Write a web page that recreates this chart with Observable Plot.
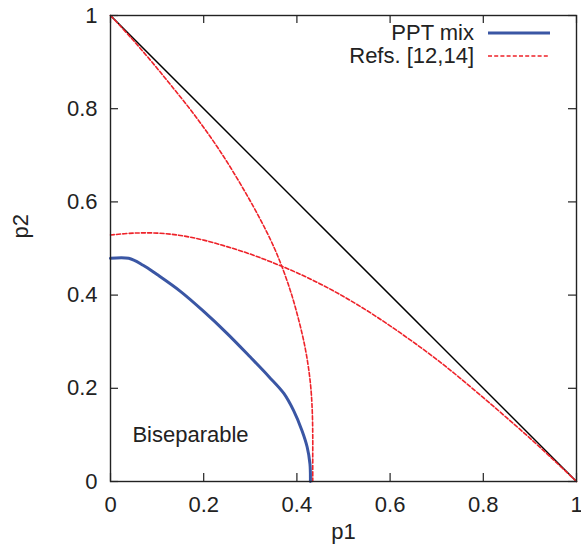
<!DOCTYPE html>
<html>
<head>
<meta charset="utf-8">
<script src="https://cdn.jsdelivr.net/npm/d3@7"></script>
<script src="https://cdn.jsdelivr.net/npm/@observablehq/plot@0.6"></script>
<style>
  html, body { margin: 0; padding: 0; background: #fff; }
</style>
</head>
<body>
<div id="chart"></div>
<script>
// ---- data ----
const boundaryP1 = [0, 1];
const boundaryP2 = [1, 0];

// PPT mix (blue, solid)
const pptP1 = [0, 0.039, 0.07, 0.1, 0.15, 0.2, 0.25, 0.3, 0.34, 0.372, 0.393, 0.411, 0.422, 0.428, 0.429];
const pptP2 = [0.479, 0.479, 0.464, 0.444, 0.408, 0.365, 0.318, 0.267, 0.225, 0.189, 0.152, 0.109, 0.074, 0.038, 0];

// Refs. [12,14] — upper branch, from (0,1) down to the p1 axis
const refsAP2 = [1, 0.95, 0.9, 0.85, 0.8, 0.75, 0.7, 0.65, 0.6, 0.55, 0.5, 0.45, 0.4, 0.35, 0.3, 0.25, 0.2, 0.15, 0.1, 0.05, 0];
const refsAP1 = [0, 0.046, 0.089, 0.130, 0.170, 0.207, 0.241, 0.272, 0.301, 0.328, 0.352, 0.372, 0.389, 0.403, 0.415, 0.424, 0.430, 0.433, 0.434, 0.434, 0.434];

// Refs. [12,14] — lower branch, from the p2 axis to (1,0)
const refsBP1 = [0, 0.05, 0.1, 0.15, 0.2, 0.25, 0.3, 0.35, 0.4, 0.45, 0.5, 0.55, 0.6, 0.65, 0.7, 0.75, 0.8, 0.85, 0.9, 0.95, 1];
const refsBP2 = [0.529, 0.533, 0.533, 0.528, 0.518, 0.504, 0.488, 0.469, 0.448, 0.424, 0.397, 0.367, 0.334, 0.299, 0.262, 0.222, 0.180, 0.137, 0.093, 0.047, 0];

const tickValues = [0, 0.2, 0.4, 0.6, 0.8, 1];
const tickLabels = ["0", "0.2", "0.4", "0.6", "0.8", "1"];

const seriesNames = ["PPT mix", "Refs. [12,14]"];
const annotations = [{text: "Biseparable", p1: 0.047, p2: 0.099}];

// ---- build tables ----
const zip = (xs, ys) => xs.map((x, i) => ({p1: x, p2: ys[i]}));
const boundary = zip(boundaryP1, boundaryP2);
const ppt = zip(pptP1, pptP2);
const refsA = zip(refsAP1, refsAP2);
const refsB = zip(refsBP1, refsBP2);

const W = 581, H = 551;
const mL = 110, mR = 5, mT = 15, mB = 70;
const innerH = H - mT - mB;
const innerW = W - mL - mR;
const tickLen = 8;
const axisColor = "#222";
const red = "#ee2229";
const blue = "#3a56a4";
const dash = "4,2.2";
const font = "'Liberation Sans', Arial, Helvetica, sans-serif";

const chart = Plot.plot({
  width: W,
  height: H,
  marginLeft: mL,
  marginRight: mR,
  marginTop: mT,
  marginBottom: mB,
  style: {fontSize: "22px", fontFamily: font, color: "#222", background: "#fff"},
  x: {domain: [0, 1]},
  y: {domain: [0, 1]},
  marks: [
    // inward ticks on all four sides
    Plot.tickX(tickValues, {x: d => d, insetTop: innerH - tickLen, stroke: axisColor, strokeWidth: 1.2}),
    Plot.tickX(tickValues, {x: d => d, insetBottom: innerH - tickLen, stroke: axisColor, strokeWidth: 1.2}),
    Plot.tickY(tickValues, {y: d => d, insetRight: innerW - tickLen, stroke: axisColor, strokeWidth: 1.2}),
    Plot.tickY(tickValues, {y: d => d, insetLeft: innerW - tickLen, stroke: axisColor, strokeWidth: 1.2}),
    Plot.axisX({ticks: tickValues, tickSize: 0, tickPadding: 15, tickFormat: (d, i) => tickLabels[i], label: null}),
    Plot.axisY({ticks: tickValues, tickSize: 0, tickPadding: 13, tickFormat: (d, i) => tickLabels[i], label: null}),
    Plot.text(["p1"], {frameAnchor: "bottom", dy: 57, text: d => d}),
    Plot.text(["p2"], {frameAnchor: "left", rotate: -90, dx: -90, dy: -10, text: d => d}),
    Plot.line(boundary, {x: "p1", y: "p2", stroke: "#000", strokeWidth: 1.5}),
    Plot.line(refsB, {x: "p1", y: "p2", stroke: red, strokeWidth: 1.6, strokeDasharray: dash, curve: "catmull-rom"}),
    Plot.line(refsA, {x: "p1", y: "p2", stroke: red, strokeWidth: 1.6, strokeDasharray: dash, curve: "catmull-rom"}),
    Plot.line(ppt, {x: "p1", y: "p2", stroke: blue, strokeWidth: 3, curve: "catmull-rom"}),
    Plot.text(annotations, {x: "p1", y: "p2", text: "text", textAnchor: "start", fill: "#222"}),
    Plot.frame({stroke: axisColor, strokeWidth: 1.4})
  ]
});

// ---- legend (top-right, inside the frame) ----
const xr = chart.scale("x").range;
const yr = chart.scale("y").range;
const frameRight = Math.max(...xr);
const frameTop = Math.min(...yr);
const svg = d3.select(chart);
const lg = svg.append("g").attr("font-family", font).attr("font-size", 22).attr("fill", "#222");
const rows = [
  {name: seriesNames[0], stroke: blue, width: 3, dash: null},
  {name: seriesNames[1], stroke: red, width: 1.5, dash: dash}
];
rows.forEach((r, i) => {
  const cy = frameTop + 18 + i * 23;
  lg.append("text").attr("x", frameRight - 102).attr("y", cy).attr("dy", "0.34em")
    .attr("text-anchor", "end").text(r.name);
  lg.append("line").attr("x1", frameRight - 88).attr("x2", frameRight - 26).attr("y1", cy).attr("y2", cy)
    .attr("stroke", r.stroke).attr("stroke-width", r.width).attr("stroke-dasharray", r.dash);
});

document.getElementById("chart").appendChild(chart);
</script>
</body>
</html>
